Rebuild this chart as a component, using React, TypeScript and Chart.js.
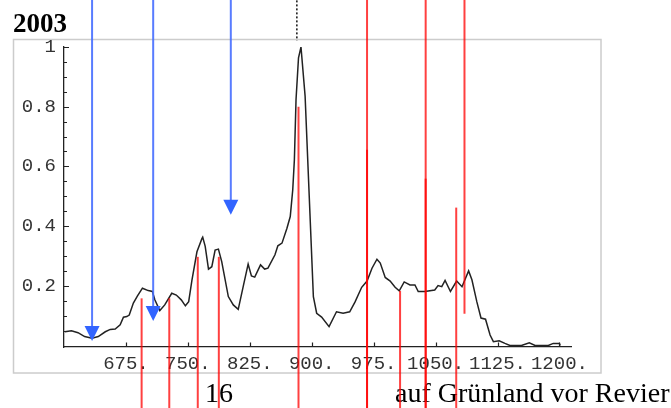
import { useEffect, useRef } from "react";
import { Chart, registerables } from "chart.js";

Chart.register(...registerables);

// Spectrum: wavenumber (x) and normalised intensity (y)
const wavenumbers = [
  601, 609, 617, 625, 634, 641.5, 650, 656, 662, 668, 672, 676, 679, 684, 689, 695,
  702, 707, 710, 716, 722, 730.5, 736, 742, 747, 751, 755, 761, 767, 768, 771, 775,
  779, 783, 787, 791, 799, 805, 811, 817, 823, 827, 831, 838, 843, 847, 855.5, 859,
  864, 870, 874, 877, 879, 881, 884, 887, 892, 897, 902, 906, 912, 921, 930, 938,
  946, 952.5, 960.5, 967, 973, 979, 983, 989, 995, 1001, 1006, 1012, 1019, 1025, 1029,
  1037, 1049, 1053, 1057.5, 1061.5, 1068, 1075.5, 1082, 1090, 1094, 1100, 1105, 1110.5,
  1116, 1120, 1127, 1134, 1140, 1154, 1163.5, 1170.5, 1186.5, 1192.5, 1200, 1201,
];
const intensity = [
  0.046, 0.049, 0.043, 0.03, 0.024, 0.03, 0.046, 0.054, 0.055, 0.069, 0.095, 0.097, 0.102,
  0.142, 0.166, 0.192, 0.184, 0.181, 0.153, 0.117, 0.136, 0.175, 0.169, 0.153, 0.133, 0.147,
  0.22, 0.314, 0.358, 0.363, 0.332, 0.256, 0.264, 0.32, 0.323, 0.281, 0.164, 0.136, 0.121,
  0.197, 0.273, 0.233, 0.229, 0.27, 0.256, 0.259, 0.304, 0.334, 0.343, 0.393, 0.432, 0.521,
  0.622, 0.824, 0.964, 1.0, 0.835, 0.499, 0.164, 0.108, 0.095, 0.063, 0.113, 0.108, 0.113,
  0.146, 0.195, 0.216, 0.259, 0.289, 0.276, 0.228, 0.216, 0.195, 0.183, 0.213, 0.203, 0.203,
  0.181, 0.181, 0.186, 0.201, 0.197, 0.218, 0.181, 0.216, 0.197, 0.25, 0.22, 0.146, 0.092,
  0.088, 0.035, 0.013, 0.016, 0.007, 0, 0, 0.009, 0, 0, 0.007, 0.007, 0,
];

// Axis ticks
const xTicks = [675, 750, 825, 900, 975, 1050, 1125, 1200];
const yTicks = [0.2, 0.4, 0.6, 0.8, 1];

// Reference bands (red): position, upper end, lower end
const bandX = [694, 727.5, 762, 787.5, 884, 967, 967, 1007, 1038, 1038, 1075, 1085];
const bandTop = [0.158, 0.158, 0.297, 0.297, 0.8, 1.25, 0.656, 0.183, 1.25, 0.559, 0.462, 1.25];
const bandBottom = [-0.25, -0.25, -0.25, -0.25, -0.25, -0.25, -0.25, -0.25, -0.25, -0.25, -0.25, 0.106];

// Blue arrows: position and tip height
const arrowX = [634, 708, 802];
const arrowTip = [0.015, 0.082, 0.438];

// Dotted marker above the main peak
const peakMarkerX = 882;
const peakMarkerFrom = 1.25;
const peakMarkerTo = 1.022;

const title = "2003";
const sampleNo = "16";
const caption = "auf Grünland vor Revier";

const decorations = {
  id: "decorations",
  beforeDraw(chart: any) {
    const ctx = chart.ctx;
    ctx.save();
    ctx.strokeStyle = "#cccccc";
    ctx.lineWidth = 1.5;
    ctx.strokeRect(13.5, 39.5, 587.5, 333.5);
    ctx.fillStyle = "#000";
    ctx.textBaseline = "alphabetic";
    ctx.textAlign = "left";
    ctx.font = 'bold 27px "Liberation Serif"';
    ctx.fillText(title, 13, 31.5);
    ctx.font = '28px "Liberation Serif"';
    ctx.fillText(sampleNo, 205, 402);
    ctx.fillText(caption, 395, 402);
    ctx.restore();
  },
  afterDatasetsDraw(chart: any) {
    const ctx = chart.ctx;
    const xs = chart.scales.x;
    const ys = chart.scales.y;
    const area = chart.chartArea;
    ctx.save();
    // inward tick marks
    ctx.strokeStyle = "#222";
    ctx.lineWidth = 1.2;
    ctx.beginPath();
    for (const v of xTicks) {
      const px = Math.round(xs.getPixelForValue(v)) + 0.5;
      ctx.moveTo(px, area.bottom);
      ctx.lineTo(px, area.bottom - 4.5);
    }
    for (let i = 1; i < 20; i++) {
      const v = i * 0.05;
      const major = i % 4 === 0;
      const py = Math.round(ys.getPixelForValue(v)) + 0.5;
      ctx.moveTo(area.left, py);
      ctx.lineTo(area.left + (major ? 5 : 3), py);
    }
    {
      const py = Math.round(ys.getPixelForValue(1)) + 0.5;
      ctx.moveTo(area.left, py);
      ctx.lineTo(area.left + 5, py);
    }
    ctx.stroke();

    // red bands
    ctx.strokeStyle = "rgba(255,0,0,0.75)";
    ctx.lineWidth = 2;
    bandX.forEach((v, i) => {
      const px = xs.getPixelForValue(v);
      ctx.beginPath();
      ctx.moveTo(px, ys.getPixelForValue(bandTop[i]));
      ctx.lineTo(px, ys.getPixelForValue(bandBottom[i]));
      ctx.stroke();
    });

    // blue arrows
    arrowX.forEach((v, i) => {
      const px = xs.getPixelForValue(v);
      const tip = ys.getPixelForValue(arrowTip[i]);
      ctx.strokeStyle = "rgba(70,110,255,0.9)";
      ctx.lineWidth = 2;
      ctx.beginPath();
      ctx.moveTo(px, ys.getPixelForValue(1.25));
      ctx.lineTo(px, tip - 10);
      ctx.stroke();
      ctx.fillStyle = "rgb(50,100,255)";
      ctx.beginPath();
      ctx.moveTo(px, tip);
      ctx.lineTo(px - 7.5, tip - 15);
      ctx.lineTo(px + 7.5, tip - 15);
      ctx.closePath();
      ctx.fill();
    });

    // dotted peak marker
    const mx = xs.getPixelForValue(peakMarkerX);
    ctx.strokeStyle = "#111";
    ctx.lineWidth = 1.5;
    ctx.setLineDash([2, 2]);
    ctx.beginPath();
    ctx.moveTo(mx, ys.getPixelForValue(peakMarkerFrom));
    ctx.lineTo(mx, ys.getPixelForValue(peakMarkerTo));
    ctx.stroke();
    ctx.restore();
  },
};

export default function App() {
  const ref = useRef<HTMLCanvasElement | null>(null);

  useEffect(() => {
    if (!ref.current) return;
    const chart = new Chart(ref.current, {
      type: "line",
      data: {
        datasets: [
          {
            data: wavenumbers.map((x, i) => ({ x, y: intensity[i] })),
            borderColor: "#222",
            borderWidth: 1.5,
            pointRadius: 0,
            tension: 0,
            fill: false,
          },
        ],
      },
      options: {
        animation: false,
        responsive: false,
        devicePixelRatio: 1,
        layout: { padding: { top: 47, right: 100, left: 0, bottom: 0 } },
        plugins: { legend: { display: false }, tooltip: { enabled: false }, title: { display: false } },
        scales: {
          x: {
            type: "linear",
            min: 600,
            max: 1214,
            grid: { display: false, drawTicks: false },
            border: { display: true, color: "#222", width: 1.3 },
            afterFit: (s: any) => {
              s.height = 61;
            },
            afterBuildTicks: (s: any) => {
              s.ticks = xTicks.map((value) => ({ value }));
            },
            ticks: {
              autoSkip: false,
              maxRotation: 0,
              padding: 6,
              color: "#333",
              font: { family: '"Liberation Mono", monospace', size: 19 },
              callback: (v: any) => `${v}.`,
            },
          },
          y: {
            type: "linear",
            min: -0.005,
            max: 1.0,
            grid: { display: false, drawTicks: false },
            border: { display: true, color: "#222", width: 1.3 },
            afterFit: (s: any) => {
              s.width = 64;
            },
            afterBuildTicks: (s: any) => {
              s.ticks = yTicks.map((value) => ({ value }));
            },
            ticks: {
              autoSkip: false,
              padding: 8,
              color: "#333",
              font: { family: '"Liberation Mono", monospace', size: 19 },
              callback: (v: any) => String(v),
            },
          },
        },
      },
      plugins: [decorations],
    });
    return () => chart.destroy();
  }, []);

  return (
    <div style={{ position: "fixed", left: 0, top: 0, width: 671, height: 408, background: "#fff" }}>
      <canvas ref={ref} width={671} height={408} style={{ display: "block" }} />
    </div>
  );
}
